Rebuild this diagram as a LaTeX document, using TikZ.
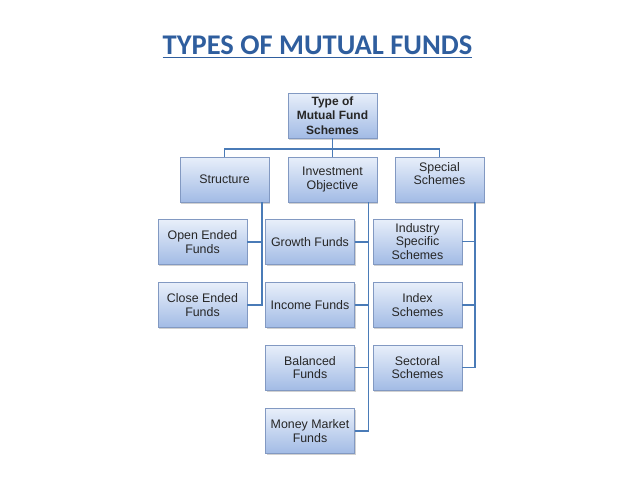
\documentclass[tikz,border=0pt]{standalone}
\usepackage{fontspec}
\setmainfont{Liberation Sans}
\newfontfamily\titlefont{Carlito}
\usetikzlibrary{shadows}

\definecolor{titleblue}{HTML}{2F5E9E}
\definecolor{linkblue}{HTML}{4A7BB7}
\definecolor{boxtop}{HTML}{E8EFFA}
\definecolor{boxbot}{HTML}{A2BBE5}
\definecolor{boxedge}{HTML}{8299C2}

\begin{document}
\begin{tikzpicture}[x=1pt,y=-1pt,
  fundbox/.style={draw=boxedge, line width=0.6pt, top color=boxtop, bottom color=boxbot,
    minimum width=89pt, minimum height=45pt, inner sep=1pt, align=center,
    text=black!85, font=\fontsize{12.4}{13.4}\selectfont,
    drop shadow={shadow xshift=1.2pt, shadow yshift=-1.5pt, opacity=0.3, fill=black!60}},
  link/.style={draw=linkblue, line width=1.8pt}]
\useasboundingbox (0,0) rectangle (638,479);
% title
\node[anchor=base, inner sep=0pt, text=titleblue, font=\titlefont\bfseries\fontsize{28.5}{30}\selectfont]
  (title) at (317.5,54) {TYPES OF MUTUAL FUNDS};
\draw[titleblue, line width=1.7pt] ([yshift=-3.5pt]title.base west) -- ([yshift=-3.5pt]title.base east);
% head and second row
\node[fundbox, font=\bfseries\fontsize{12}{14.7}\selectfont] (head) at (332.5,115.5) {Type of\\Mutual Fund\\Schemes};
\node[fundbox] (struct) at (224.5,179.5) {Structure};
\node[fundbox] (invest) at (332.5,179.5) {Investment\\Objective};
\node[fundbox] (special) at (439.5,179.5) {Special\\Schemes\\[-1pt]\mbox{}};
% structure column
\node[fundbox] (open) at (202.5,242) {Open Ended\\Funds};
\node[fundbox] (close) at (202.5,305) {Close Ended\\Funds};
% objective column
\node[fundbox] (growth) at (310,242) {Growth Funds};
\node[fundbox] (income) at (310,305) {Income Funds};
\node[fundbox] (balanced) at (310,367.5) {Balanced\\Funds};
\node[fundbox] (money) at (310,431) {Money Market\\Funds};
% special column
\node[fundbox] (industry) at (417.5,241.5) {Industry\\Specific\\Schemes};
\node[fundbox] (index) at (417.5,305) {Index\\Schemes};
\node[fundbox] (sectoral) at (417.5,367.5) {Sectoral\\Schemes};
% connectors
\coordinate (bus) at (332.5,149);
\coordinate (sline) at (262,202);
\coordinate (iline) at (368.5,202);
\coordinate (cline) at (475,202);
\begin{scope}[link]
\draw (head.south) -- (invest.north);
\draw (struct.north) |- (bus) -| (special.north);
\draw (sline) |- (open.east);
\draw (sline) |- (close.east);
\foreach \n in {growth,income,balanced,money}
  \draw (iline) |- (\n.east);
\foreach \n in {industry,index,sectoral}
  \draw (cline) |- (\n.east);
\end{scope}
\end{tikzpicture}
\end{document}
